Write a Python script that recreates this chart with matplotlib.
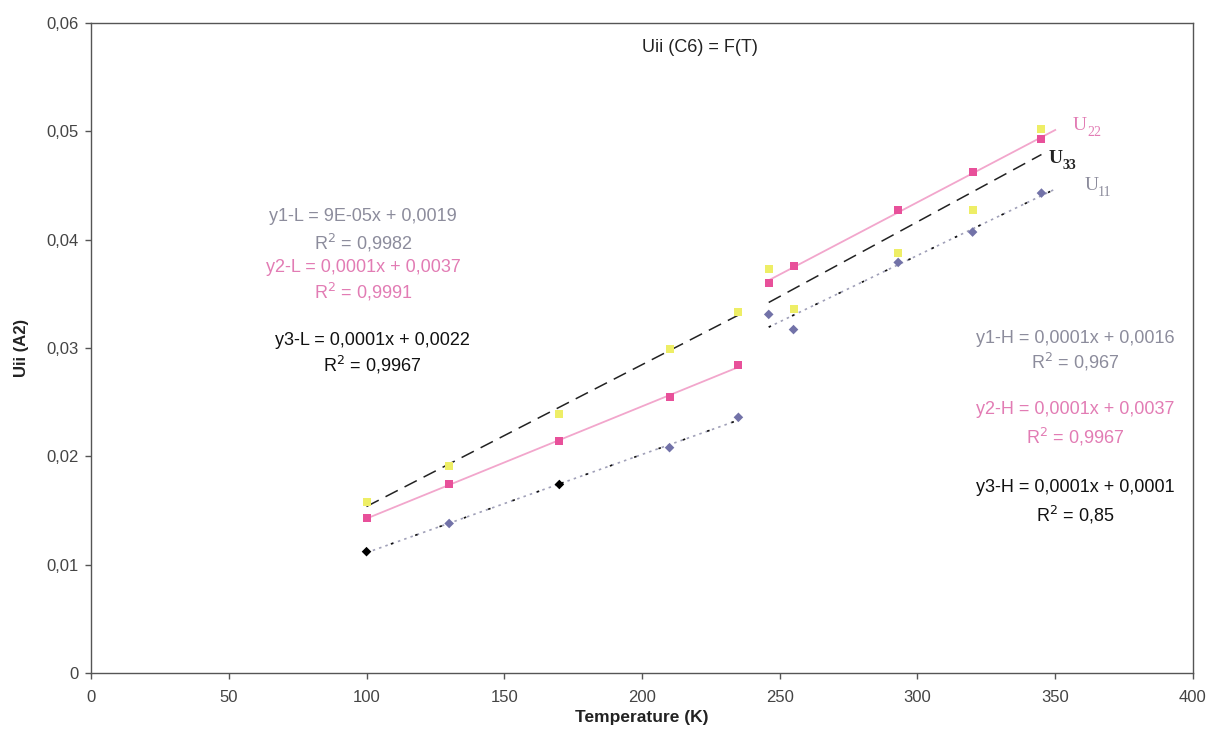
import matplotlib
matplotlib.use("Agg")
import matplotlib.pyplot as plt
import numpy as np
from matplotlib.ticker import FuncFormatter

plt.rcParams['font.family'] = ['Liberation Sans', 'DejaVu Sans']

# temperatures (K)
temp = [100, 130, 170, 210, 235, 246, 255, 293, 320, 345]
# Uii values
u33 = [0.0158, 0.0191, 0.0239, 0.0299, 0.0333, 0.0373, 0.0336, 0.0388, 0.0427, 0.0502]
u22 = [0.0143, 0.0174, 0.0214, 0.0255, 0.0284, 0.0360, 0.0376, 0.0427, 0.0462, 0.0493]
u11 = [0.0112, 0.0138, 0.0174, 0.0208, 0.0236, 0.0331, 0.0317, 0.0379, 0.0407, 0.0443]
u11_cols = ['black', '#7272a8', 'black', '#7272a8', '#7272a8',
            '#7272a8', '#7272a8', '#7272a8', '#7272a8', '#7272a8']
n_low = 5  # first 5 points = low-temperature phase

# trend line extents (low / high)
rng_low = (100, 235)
rng_high = {'u33': (246, 345), 'u22': (246, 350), 'u11': (246, 350)}

eq_low = ["y1-L = 9E-05x + 0,0019", "R$^2$ = 0,9982",
          "y2-L = 0,0001x + 0,0037", "R$^2$ = 0,9991",
          "y3-L = 0,0001x + 0,0022", "R$^2$ = 0,9967"]
eq_high = ["y1-H = 0,0001x + 0,0016", "R$^2$ = 0,967",
           "y2-H = 0,0001x + 0,0037", "R$^2$ = 0,9967",
           "y3-H = 0,0001x + 0,0001", "R$^2$ = 0,85"]

PINK = '#e8509a'
PINK_LINE = '#f2a6cc'
PINK_TXT = '#e27cb4'
YELLOW = '#eeee66'
GREY_TXT = '#8c8c9c'

fig = plt.figure(figsize=(12.12, 7.30), dpi=100)
ax = fig.add_axes([0.0751, 0.0781, 0.9092, 0.8904])

t = np.array(temp)


def trend(y, lo, hi, sl, **kw):
    y = np.array(y)
    p = np.polyfit(t[sl], y[sl], 1)
    xx = np.array([lo, hi])
    ax.plot(xx, np.polyval(p, xx), **kw)


low = slice(0, n_low)
high = slice(n_low, None)

# trend lines
trend(u33, *rng_low, low, color='#222222', lw=1.1, dashes=(9, 5))
trend(u33, *rng_high['u33'], high, color='#222222', lw=1.1, dashes=(9, 5))
trend(u22, *rng_low, low, color=PINK_LINE, lw=1.3)
trend(u22, *rng_high['u22'], high, color=PINK_LINE, lw=1.3)
for sl, r in [(low, rng_low), (high, rng_high['u11'])]:
    trend(u11, *r, sl, color='#a0a0b8', lw=1.2, dashes=(1.5, 2.5))
    trend(u11, *r, sl, color='#111111', lw=1.2, dashes=(1.5, 14))

# markers
ax.scatter(temp, u33, marker='s', s=36, color=YELLOW, zorder=3, linewidths=0)
ax.scatter(temp, u22, marker='s', s=36, color=PINK, zorder=4, linewidths=0)
ax.scatter(temp, u11, marker='D', s=24, color=u11_cols, zorder=4, linewidths=0)

# equations
eq_cols = [GREY_TXT, GREY_TXT, PINK_TXT, PINK_TXT, '#111111', '#111111']
x_low = [98.7, 98.7, 98.7, 98.7, 102, 102]
y_low = [0.0421, 0.0397, 0.0374, 0.0352, 0.0307, 0.0284]
y_high = [0.0309, 0.0287, 0.0243, 0.0218, 0.0171, 0.0146]
for s, c, xx, yy in zip(eq_low, eq_cols, x_low, y_low):
    ax.text(xx, yy, s, color=c, fontsize=13, ha='center', va='center')
for s, c, yy in zip(eq_high, eq_cols, y_high):
    ax.text(357.2, yy, s, color=c, fontsize=13, ha='center', va='center')

# series labels
for name, sub, x0, y0, c, w in [('U', '22', 356.5, 0.0505, PINK_TXT, 'normal'),
                                ('U', '33', 347.5, 0.0475, '#222222', 'bold'),
                                ('U', '11', 360.5, 0.0450, GREY_TXT, 'normal')]:
    ax.text(x0, y0, name, family='Liberation Serif', fontsize=14, color=c,
            fontweight=w, ha='left', va='center')
    ax.annotate(sub, (x0, y0), xytext=(10, -5), textcoords='offset points',
                family='Liberation Serif', fontsize=10, color=c, fontweight=w,
                ha='left', va='center')

ax.text(221, 0.0577, "Uii (C6) = F(T)", fontsize=13, color='#222222',
        ha='center', va='center')

ax.set_xlim(0, 400)
ax.set_ylim(0, 0.06)
ax.set_xticks(np.arange(0, 401, 50))
ax.set_yticks(np.arange(0, 0.0601, 0.01))
ax.yaxis.set_major_formatter(FuncFormatter(
    lambda v, p: '0' if abs(v) < 1e-9 else f"{v:.2f}".replace('.', ',')))
ax.tick_params(direction='out', length=4, width=1, colors='#555555',
               labelcolor='#444444', labelsize=12, pad=5)
ax.tick_params(axis='x', pad=8)
for sp in ax.spines.values():
    sp.set_color('#555555')
    sp.set_linewidth(1)

ax.set_xlabel("Temperature (K)", fontsize=12.5, fontweight='bold', color='#222222',
              labelpad=4)
ax.set_ylabel("Uii (A2)", fontsize=12, fontweight='bold', color='#222222',
              labelpad=12)

fig.savefig("out.png", dpi=100)
